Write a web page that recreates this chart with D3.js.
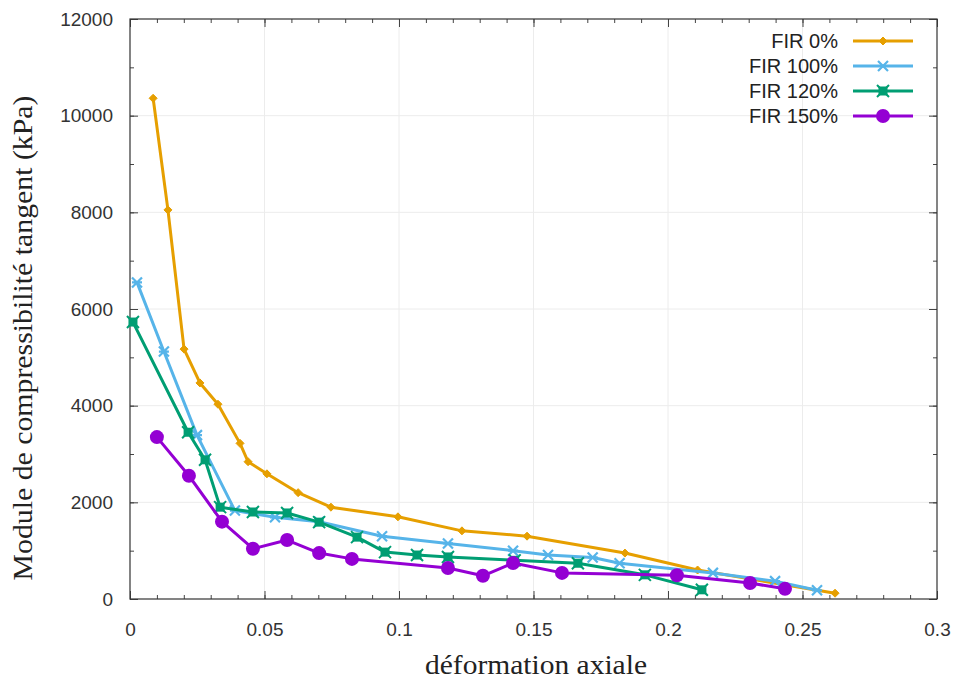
<!DOCTYPE html>
<html><head><meta charset="utf-8">
<script src="https://cdn.jsdelivr.net/npm/d3@7"></script>
<style>body{margin:0;background:#fff}</style>
</head><body>
<svg id="c" width="961" height="684"></svg>
<script>
const seriesNames = ["FIR 0%", "FIR 100%", "FIR 120%", "FIR 150%"];
const fir0 = [[0.0086,10360],[0.0141,8050],[0.0201,5170],[0.026,4470],[0.0327,4030],[0.0409,3220],[0.0439,2840],[0.0509,2590],[0.0625,2200],[0.0747,1900],[0.0996,1700],[0.1234,1410],[0.1476,1300],[0.184,950],[0.211,600],[0.2621,120]];
const fir100 = [[0.0026,6550],[0.0126,5120],[0.0249,3390],[0.039,1830],[0.0539,1690],[0.0703,1600],[0.0937,1300],[0.1182,1150],[0.1424,1000],[0.1554,910],[0.172,860],[0.182,740],[0.2167,540],[0.2398,370],[0.2554,180]];
const fir120 = [[0.0011,5730],[0.0216,3450],[0.0279,2880],[0.0335,1900],[0.0457,1800],[0.0584,1780],[0.0703,1590],[0.0844,1280],[0.0948,970],[0.1067,910],[0.1182,870],[0.143,800],[0.1665,740],[0.1914,500],[0.2126,190]];
const fir150 = [[0.010,3350],[0.0219,2550],[0.0342,1600],[0.0457,1040],[0.0584,1220],[0.0703,950],[0.0825,830],[0.1182,640],[0.1312,480],[0.1424,745],[0.1606,540],[0.2033,490],[0.2305,330],[0.2435,210]];
const xTicks = [0,0.05,0.1,0.15,0.2,0.25,0.3];
const xTickLabels = ["0","0.05","0.1","0.15","0.2","0.25","0.3"];
const yTicks = [0,2000,4000,6000,8000,10000,12000];
const colors = ["#e69f00","#56b4e9","#009e73","#9400d3"];
const allSeries = [fir0, fir100, fir120, fir150];

const svg = d3.select("#c");
const L=130, R=937, T=19, B=599;
const x = d3.scaleLinear().domain([0,0.3]).range([L,R]);
const y = d3.scaleLinear().domain([0,12000]).range([B,T]);

// grid
const g = svg.append("g");
g.selectAll(".gx").data(xTicks.slice(1,-1)).join("line")
  .attr("x1",d=>x(d)).attr("x2",d=>x(d)).attr("y1",T).attr("y2",B)
  .attr("stroke","#ececec").attr("stroke-width",1);
g.selectAll(".gy").data(yTicks.slice(1,-1)).join("line")
  .attr("y1",d=>y(d)).attr("y2",d=>y(d)).attr("x1",L).attr("x2",R)
  .attr("stroke","#ececec").attr("stroke-width",1);

// axes (ticks inward, mirrored)
const xMinor = d3.range(0,0.3001,0.01);
const yMinor = d3.range(0,12001,1000);
const axisStyle = sel => { sel.select(".domain").remove(); sel.selectAll("line").attr("stroke","#444"); };
svg.append("g").attr("transform",`translate(0,${B})`).call(d3.axisBottom(x).tickValues(xMinor).tickSize(-4).tickFormat("")).call(axisStyle);
svg.append("g").attr("transform",`translate(0,${T})`).call(d3.axisTop(x).tickValues(xMinor).tickSize(-4).tickFormat("")).call(axisStyle);
svg.append("g").attr("transform",`translate(${L},0)`).call(d3.axisLeft(y).tickValues(yMinor).tickSize(-4).tickFormat("")).call(axisStyle);
svg.append("g").attr("transform",`translate(${R},0)`).call(d3.axisRight(y).tickValues(yMinor).tickSize(-4).tickFormat("")).call(axisStyle);

const xa = svg.append("g").attr("transform",`translate(0,${B})`)
  .call(d3.axisBottom(x).tickValues(xTicks).tickSize(-8).tickPadding(24).tickFormat((d,i)=>xTickLabels[i]));
xa.select(".domain").remove(); xa.selectAll("line").attr("stroke","#444");
xa.selectAll("text").attr("font-family","Liberation Sans, Arial, sans-serif").attr("font-size",19).attr("fill","#333");
svg.append("g").attr("transform",`translate(0,${T})`).call(d3.axisTop(x).tickValues(xTicks).tickSize(-8).tickFormat("")).call(axisStyle);
const ya = svg.append("g").attr("transform",`translate(${L},0)`)
  .call(d3.axisLeft(y).tickValues(yTicks).tickSize(-8).tickPadding(17).tickFormat(d3.format("d")));
ya.select(".domain").remove(); ya.selectAll("line").attr("stroke","#444");
ya.selectAll("text").attr("font-family","Liberation Sans, Arial, sans-serif").attr("font-size",19).attr("fill","#333");
svg.append("g").attr("transform",`translate(${R},0)`).call(d3.axisRight(y).tickValues(yTicks).tickSize(-8).tickFormat("")).call(axisStyle);

svg.append("rect").attr("x",L).attr("y",T).attr("width",R-L).attr("height",B-T)
  .attr("fill","none").attr("stroke","#333").attr("stroke-width",1.2);

// markers
function marker(sel, i, cx, cy) {
  const c = colors[i];
  if (i===0) {
    sel.append("path").attr("d",`M${cx-4},${cy}L${cx},${cy-4}L${cx+4},${cy}L${cx},${cy+4}Z`).attr("fill",c).attr("stroke",c).attr("stroke-width",1);
  } else if (i===1) {
    sel.append("path").attr("d",`M${cx-5},${cy-5}L${cx+5},${cy+5}M${cx-5},${cy+5}L${cx+5},${cy-5}M${cx-5},${cy}L${cx+5},${cy}`).attr("stroke",c).attr("stroke-width",2.2).attr("fill","none");
  } else if (i===2) {
    sel.append("rect").attr("x",cx-4.5).attr("y",cy-4.5).attr("width",9).attr("height",9).attr("fill",c);
    sel.append("path").attr("d",`M${cx-6},${cy-6}L${cx+6},${cy+6}M${cx-6},${cy+6}L${cx+6},${cy-6}`).attr("stroke",c).attr("stroke-width",2);
  } else {
    sel.append("circle").attr("cx",cx).attr("cy",cy).attr("r",7).attr("fill",c);
  }
}

const line = d3.line().x(d=>x(d[0])).y(d=>y(d[1]));
allSeries.forEach((data,i)=>{
  const sg = svg.append("g");
  sg.append("path").datum(data).attr("d",line).attr("fill","none")
    .attr("stroke",colors[i]).attr("stroke-width",3).attr("stroke-linejoin","round");
  data.forEach(d=>marker(sg,i,x(d[0]),y(d[1])));
});

// legend
const lg = svg.append("g");
seriesNames.forEach((n,i)=>{
  const ly = 41 + i*25;
  lg.append("text").attr("x",838).attr("y",ly).attr("dy","0.35em").attr("text-anchor","end")
    .attr("font-family","Liberation Sans, Arial, sans-serif").attr("font-size",20).attr("fill","#222").text(n);
  lg.append("line").attr("x1",853).attr("x2",913).attr("y1",ly).attr("y2",ly)
    .attr("stroke",colors[i]).attr("stroke-width",3);
  marker(lg,i,883,ly);
});

// axis titles
svg.append("text").attr("x",536).attr("y",674).attr("text-anchor","middle")
  .attr("font-family","Liberation Serif, Times New Roman, serif").attr("font-size",27).attr("fill","#222")
  .attr("textLength",222).attr("lengthAdjust","spacingAndGlyphs")
  .text("déformation axiale");
svg.append("text").attr("transform","translate(32,338) rotate(-90)").attr("text-anchor","middle")
  .attr("font-family","Liberation Serif, Times New Roman, serif").attr("font-size",27).attr("fill","#222")
  .attr("textLength",485).attr("lengthAdjust","spacingAndGlyphs")
  .text("Module de compressibilité tangent (kPa)");
</script>
</body></html>
